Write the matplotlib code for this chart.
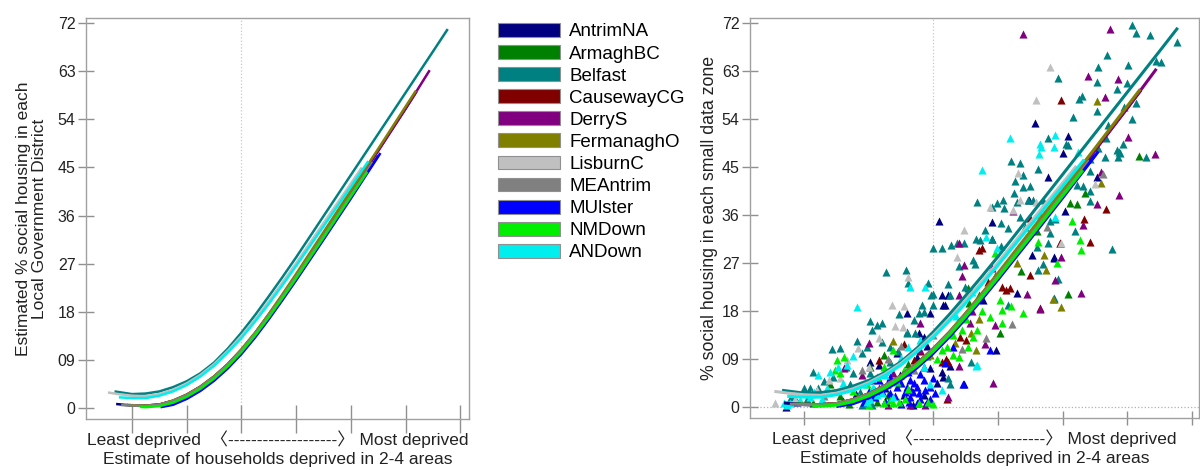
import numpy as np
import matplotlib
matplotlib.use('Agg')
import matplotlib.pyplot as plt
from matplotlib.patches import Patch

plt.rcParams['font.family'] = ['Liberation Sans', 'Noto Sans CJK SC']

# district names and colours
districts = ['AntrimNA', 'ArmaghBC', 'Belfast', 'CausewayCG', 'DerryS', 'FermanaghO',
             'LisburnC', 'MEAntrim', 'MUlster', 'NMDown', 'ANDown']
colours = ['#000080', '#008000', '#008080', '#800000', '#800080', '#808000',
           '#c0c0c0', '#808080', '#0000ff', '#00ee00', '#00eeee']

# fitted curves
AntrimNA_x = [-0.29, 0.0, 0.25, 0.5, 0.75, 1.0, 1.25, 1.5, 1.75, 2.0, 2.25, 2.5, 2.75, 3.0, 3.5, 4.0, 4.5]
AntrimNA_y = [0.75, 0.45, 0.35, 0.5, 1.1, 2.1, 3.5, 5.4, 7.7, 10.4, 13.5, 16.9, 20.5, 24.2, 31.8, 39.5, 47.2]
ArmaghBC_x = [-0.1, 0.0, 0.25, 0.5, 0.75, 1.0, 1.25, 1.5, 1.75, 2.0, 2.25, 2.5, 2.75, 3.0, 3.5, 4.0, 4.35]
ArmaghBC_y = [0.6, 0.5, 0.4, 0.6, 1.3, 2.4, 3.9, 5.8, 8.1, 10.8, 13.9, 17.3, 20.9, 24.6, 32.2, 39.9, 45.3]
Belfast_x = [-0.32, 0.0, 0.25, 0.5, 0.75, 1.0, 1.25, 1.5, 1.75, 2.0, 2.25, 2.5, 2.75, 3.0, 3.5, 4.0, 4.5, 5.0, 5.5, 5.77]
Belfast_y = [3.1, 2.6, 2.7, 3.1, 3.9, 5.0, 6.5, 8.5, 11.1, 14.1, 17.4, 20.9, 24.5, 28.2, 35.9, 43.6, 51.3, 59.0, 66.7, 70.9]
CausewayCG_x = [0.0, 0.25, 0.5, 0.75, 1.0, 1.25, 1.5, 1.75, 2.0, 2.25, 2.5, 2.75, 3.0, 3.5, 4.0, 4.5, 5.0, 5.2]
CausewayCG_y = [0.5, 0.45, 0.65, 1.35, 2.5, 4.0, 5.9, 8.2, 10.9, 14.0, 17.5, 21.1, 24.9, 32.6, 40.4, 48.2, 56.0, 59.2]
DerryS_x = [0.05, 0.25, 0.5, 0.75, 1.0, 1.25, 1.5, 1.75, 2.0, 2.25, 2.5, 2.75, 3.0, 3.5, 4.0, 4.5, 5.0, 5.44]
DerryS_y = [0.5, 0.45, 0.65, 1.35, 2.45, 3.95, 5.85, 8.15, 10.85, 14.0, 17.4, 21.0, 24.8, 32.5, 40.3, 48.1, 56.0, 63.2]
FermanaghO_x = [-0.05, 0.25, 0.5, 0.75, 1.0, 1.25, 1.5, 1.75, 2.0, 2.25, 2.5, 2.75, 3.0, 3.5, 4.0, 4.5, 5.0, 5.19]
FermanaghO_y = [0.55, 0.45, 0.65, 1.4, 2.5, 4.0, 5.9, 8.2, 11.0, 14.1, 17.6, 21.3, 25.1, 32.9, 40.7, 48.5, 56.4, 59.4]
LisburnC_x = [-0.44, -0.25, 0.0, 0.25, 0.5, 0.75, 1.0, 1.25, 1.5, 1.75, 2.0, 2.25, 2.5, 2.75, 3.0, 3.5, 4.0, 4.2]
LisburnC_y = [2.9, 2.6, 2.3, 2.2, 2.6, 3.4, 4.6, 6.2, 8.2, 10.7, 13.5, 16.6, 20.0, 23.5, 27.1, 34.6, 42.0, 45.0]
MEAntrim_x = [-0.2, 0.0, 0.25, 0.5, 0.75, 1.0, 1.25, 1.5, 1.75, 2.0, 2.25, 2.5, 2.75, 3.0, 3.5, 4.0, 4.4]
MEAntrim_y = [0.55, 0.45, 0.4, 0.6, 1.3, 2.4, 3.9, 5.8, 8.1, 10.8, 13.9, 17.3, 20.9, 24.6, 32.2, 39.9, 46.0]
MUlster_x = [0.52, 0.75, 1.0, 1.25, 1.5, 1.75, 2.0, 2.25, 2.5, 2.75, 3.0, 3.5, 4.0, 4.54]
MUlster_y = [0.15, 0.6, 1.7, 3.2, 5.1, 7.4, 10.1, 13.2, 16.6, 20.2, 23.9, 31.5, 39.2, 47.7]
NMDown_x = [0.15, 0.25, 0.5, 0.75, 1.0, 1.25, 1.5, 1.75, 2.0, 2.25, 2.5, 2.75, 3.0, 3.5, 4.0, 4.3]
NMDown_y = [0.2, 0.15, 0.35, 1.0, 2.1, 3.6, 5.5, 7.8, 10.5, 13.6, 17.0, 20.6, 24.3, 31.9, 39.6, 44.2]
ANDown_x = [-0.24, 0.0, 0.25, 0.5, 0.75, 1.0, 1.25, 1.5, 1.75, 2.0, 2.25, 2.5, 2.75, 3.0, 3.5, 4.0, 4.32]
ANDown_y = [2.0, 1.85, 1.85, 2.3, 3.1, 4.3, 5.9, 7.9, 10.4, 13.1, 16.2, 19.5, 23.0, 26.6, 34.0, 41.4, 46.2]

curves_x = [AntrimNA_x, ArmaghBC_x, Belfast_x, CausewayCG_x, DerryS_x, FermanaghO_x,
            LisburnC_x, MEAntrim_x, MUlster_x, NMDown_x, ANDown_x]
curves_y = [AntrimNA_y, ArmaghBC_y, Belfast_y, CausewayCG_y, DerryS_y, FermanaghO_y,
            LisburnC_y, MEAntrim_y, MUlster_y, NMDown_y, ANDown_y]

# small data zones (x, y) per district
AntrimNA_pts = [(3.57, 53.2), (4.09, 50.8), (4.0, 47.7), (3.78, 43.2), (4.54, 43.2), (4.04, 36.8),
                (3.87, 27.9), (3.3, 21.3), (2.18, 19.1), (2.77, 20.1), (2.97, 10.7), (2.25, 7.7),
                (2.13, 6.6), (2.15, 5.7), (2.47, 4.4), (2.09, 34.9), (2.9, 34.75), (2.9, 31.6),
                (2.14, 21.0), (2.23, 21.0), (3.48, 38.8), (3.52, 28.5), (3.86, 28.2), (1.02, 8.5),
                (1.15, 7.9), (1.59, 17.7), (1.95, 17.6), (1.77, 13.9), (1.85, 13.2), (-0.11, 1.0),
                (-0.28, 0.06), (1.43, 10.1), (1.74, 9.4), (1.54, 2.25), (1.85, 2.25), (1.69, 0.4),
                (1.95, 7.25), (2.15, 19.1), (1.25, 3.5), (1.48, 6.0), (1.35, 4.8), (1.05, 5.0),
                (0.8, 2.5), (2.05, 4.5), (1.9, 11.5), (0.6, 1.2)]
ArmaghBC_pts = [(5.19, 47.1), (4.34, 40.1), (4.11, 38.2), (4.22, 38.1), (4.09, 21.2), (3.03, 13.8),
                (1.12, 1.0), (0.94, 0.7), (1.02, 7.6), (1.23, 9.75), (0.71, 3.8), (0.14, 0.7),
                (0.4, 4.4), (2.55, 19.5), (3.35, 25.5), (1.6, 8.0), (1.9, 9.5), (0.55, 2.0),
                (2.54, 22.4), (3.6, 33.0), (1.3, 2.2), (0.7, 0.6), (1.5, 9.0), (2.7, 21.0),
                (2.95, 24.5)]
Belfast_pts = [(5.08, 71.6), (5.14, 70.2), (5.35, 69.75), (5.77, 68.5), (4.69, 66.1), (5.02, 64.1),
               (5.45, 64.9), (5.52, 64.75), (3.93, 61.8), (4.55, 63.8), (4.53, 60.9), (5.0, 60.8),
               (4.85, 59.6), (4.26, 57.7), (4.3, 58.3), (5.13, 57.1), (4.16, 54.3), (4.53, 55.5),
               (5.07, 54.1), (3.78, 50.4), (4.06, 49.4), (4.09, 49.1), (3.34, 45.7), (4.93, 49.4),
               (4.67, 50.4), (4.7, 52.9), (4.85, 48.2), (4.89, 47.6), (5.29, 46.8), (4.66, 46.9),
               (4.42, 46.6), (4.55, 48.5), (4.86, 46.9), (4.87, 47.9), (4.42, 44.3), (4.22, 41.6),
               (4.31, 41.4), (4.42, 40.6), (4.43, 38.7), (3.88, 35.2), (3.8, 34.9), (4.76, 29.6),
               (3.93, 24.1), (3.86, 20.4), (3.26, 42.3), (3.39, 43.5), (3.39, 41.3), (3.55, 38.8),
               (3.47, 38.8), (2.98, 38.2), (3.08, 38.8), (2.9, 37.6), (2.67, 38.5), (3.1, 37.25),
               (3.7, 38.8), (3.34, 35.7), (3.42, 33.8), (2.8, 33.2), (2.66, 31.6), (2.72, 31.3),
               (2.0, 29.75), (2.13, 29.75), (2.28, 30.4), (2.36, 30.7), (2.47, 30.7), (2.62, 27.6),
               (2.64, 26.9), (3.8, 32.6), (3.96, 30.7), (3.78, 30.7), (3.7, 26.9), (3.62, 25.7),
               (3.6, 30.1), (3.86, 20.2), (2.25, 21.0), (3.16, 19.1), (2.59, 8.5), (2.23, 5.4),
               (2.25, 4.4), (1.27, 25.4), (1.58, 25.7), (1.61, 23.2), (1.91, 23.2), (2.22, 23.1),
               (1.99, 21.2), (2.49, 22.6), (1.82, 19.1), (1.97, 21.0), (1.99, 19.1), (1.77, 17.6),
               (1.46, 17.4), (1.02, 16.2), (1.12, 15.4), (1.2, 15.7), (1.05, 14.4), (1.59, 14.1),
               (1.72, 13.8), (0.43, 10.8), (0.56, 11.0), (0.81, 12.3), (0.97, 11.3), (0.14, 6.6),
               (-0.01, 3.5), (0.09, 3.5), (0.22, 3.5), (0.89, 0.4), (1.05, 0.4), (0.76, 6.3),
               (0.89, 10.1), (1.33, 11.3), (1.02, 6.3), (0.71, 4.4), (0.45, 5.7), (0.87, 2.9),
               (1.33, 8.5), (1.59, 13.8), (1.85, 17.9), (2.9, 31.5), (3.15, 33.5), (3.3, 38.5),
               (3.5, 41.5), (3.62, 44.6), (3.2, 46.2), (4.95, 56.2), (4.2, 33.0), (3.05, 30.2),
               (0.3, 4.8), (0.65, 7.5), (1.2, 12.2), (0.05, 1.6), (-0.2, 1.8), (1.45, 10.5),
               (1.7, 16.3), (2.4, 26.5), (3.05, 34.5), (3.25, 40.2)]
CausewayCG_pts = [(3.97, 57.6), (3.5, 35.4), (2.75, 29.75), (3.96, 30.7), (3.5, 24.75), (3.65, 18.5),
                  (4.68, 37.1), (4.33, 35.2), (4.42, 31.0), (3.13, 21.9), (3.06, 22.6), (3.18, 22.4),
                  (2.41, 13.2), (2.13, 8.5), (2.2, 9.1), (2.71, 29.4), (2.23, 8.5), (2.21, 1.6),
                  (1.15, 8.8), (1.54, 11.9), (1.8, 10.5), (1.7, 8.8), (2.5, 12.5), (2.85, 23.5)]
DerryS_pts = [(3.38, 69.9), (4.73, 70.9), (4.39, 62.1), (4.86, 61.6), (4.66, 58.2), (5.02, 50.7),
              (5.43, 47.4), (4.6, 44.1), (4.87, 39.75), (4.54, 38.1), (4.32, 34.1), (3.97, 28.1),
              (3.89, 23.8), (4.28, 21.3), (3.45, 21.2), (3.65, 18.3), (2.57, 15.7), (2.95, 15.4),
              (2.8, 11.8), (2.4, 7.7), (2.92, 4.6), (2.22, 1.9), (3.23, 36.8), (2.4, 30.7),
              (2.47, 26.6), (2.39, 21.0), (2.45, 24.6), (0.61, 7.4), (1.01, 12.1), (1.79, 15.8),
              (1.38, 6.3), (1.79, 10.7), (1.87, 0.4), (1.64, 0.4), (1.3, 0.4), (1.15, 3.6),
              (0.9, 6.0), (2.6, 18.0), (2.9, 26.0)]
FermanaghO_pts = [(4.53, 57.4), (3.72, 28.5), (3.75, 25.7), (3.98, 18.7), (2.59, 13.8), (2.33, 12.1),
                  (2.66, 10.7), (1.38, 12.4), (4.6, 42.0), (3.85, 20.3), (1.25, 6.8), (1.95, 9.8),
                  (2.7, 16.5), (3.3, 27.0)]
LisburnC_pts = [(3.8, 63.7), (3.59, 57.6), (3.31, 43.8), (3.34, 38.8), (2.88, 37.6), (3.59, 38.5),
                (2.47, 33.2), (2.36, 28.2), (4.5, 41.9), (3.97, 30.8), (-0.45, 0.7), (0.38, 5.1),
                (0.66, 8.8), (0.84, 11.0), (1.36, 19.1), (1.55, 18.9), (1.41, 15.2), (1.53, 15.1),
                (1.61, 24.3), (0.2, 3.2), (0.99, 1.9), (3.24, 36.9), (-0.15, 1.5), (0.55, 5.5),
                (0.1, 2.5), (1.15, 13.0), (1.0, 7.5)]
MEAntrim_pts = [(4.63, 43.7), (3.76, 33.7), (2.81, 12.9), (3.21, 15.6), (2.44, 10.8), (1.3, 9.0),
                (1.7, 7.0), (1.2, 4.0), (3.65, 36.0), (0.3, 2.0), (1.5, 11.5), (0.9, 7.0), (2.0, 13.5)]
MUlster_pts = [(1.59, 3.8), (1.66, 3.2), (1.69, 2.9), (1.74, 3.8), (1.77, 2.6), (1.64, 1.9),
               (1.79, 1.6), (1.87, 3.2), (1.95, 3.8), (2.03, 2.6), (1.33, 2.6), (1.43, 3.8),
               (1.56, 2.9), (1.33, 1.6), (1.64, 5.1), (1.85, 5.1), (1.28, 4.4), (1.1, 1.9),
               (0.92, 1.0), (1.74, 0.7), (1.85, 7.6), (2.18, 8.2), (2.31, 11.3), (2.88, 10.7),
               (2.46, 4.4), (1.33, 5.7), (1.5, 4.5), (1.2, 3.0), (1.9, 1.0), (1.6, 6.5), (1.0, 3.0),
               (1.15, 5.0), (1.4, 2.0), (1.7, 4.6), (1.5, 0.6), (1.95, 1.5), (1.05, 2.2),
               (1.25, 1.2), (2.0, 5.5), (1.8, 6.2), (1.62, 0.9)]
NMDown_pts = [(1.33, 1.3), (1.46, 1.0), (1.56, 1.6), (1.23, 0.7), (1.38, 0.7), (1.77, 0.7),
              (1.92, 1.0), (0.51, 8.8), (0.61, 9.4), (1.12, 5.7), (1.43, 4.75), (0.97, 4.4),
              (1.23, 7.6), (1.54, 6.9), (2.05, 9.1), (2.21, 11.3), (2.54, 11.3), (2.62, 13.2),
              (2.67, 14.4), (3.03, 20.1), (3.06, 18.2), (4.27, 31.3), (4.29, 29.4), (4.14, 34.9),
              (3.91, 27.1), (3.38, 17.6), (2.88, 16.9), (3.06, 15.7), (2.13, 10.7), (2.31, 9.75),
              (2.39, 9.4), (0.48, 6.9), (0.56, 6.3), (1.38, 10.7), (2.95, 28.8), (3.62, 31.0),
              (0.75, 3.0), (1.0, 0.4), (1.6, 3.3), (2.0, 0.5), (1.1, 3.2), (0.85, 1.8),
              (2.45, 14.5), (2.75, 18.0), (2.5, 16.5), (2.3, 13.5), (3.2, 19.0)]
ANDown_pts = [(3.18, 50.4), (3.65, 49.4), (3.67, 48.8), (3.88, 51.1), (3.86, 48.7), (3.64, 47.4),
              (2.76, 44.4), (3.88, 35.7), (1.63, 22.6), (1.87, 22.6), (2.66, 7.7), (0.82, 18.7),
              (0.22, 6.0), (-0.32, 0.7), (-0.27, 0.4), (0.4, 6.6), (0.53, 7.6), (0.66, 7.9),
              (0.92, 4.4), (1.07, 3.8), (-0.22, 0.7), (-0.06, 1.3), (0.09, 1.9), (0.27, 1.6),
              (1.61, 11.3), (1.85, 7.6), (1.95, 4.4), (2.67, 7.9), (2.13, 3.2), (1.02, 1.6),
              (1.12, 2.25), (1.2, 2.6), (1.38, 1.9), (0.97, 1.0), (2.82, 31.9), (2.98, 29.75),
              (4.24, 47.8), (0.35, 3.5), (0.6, 4.5), (0.15, 2.8), (1.25, 6.0), (0.75, 9.5),
              (1.5, 9.2), (1.8, 12.5), (2.35, 17.0), (2.6, 21.5)]

points = [AntrimNA_pts, ArmaghBC_pts, Belfast_pts, CausewayCG_pts, DerryS_pts, FermanaghO_pts,
          LisburnC_pts, MEAntrim_pts, MUlster_pts, NMDown_pts, ANDown_pts]

y_ticks = [0, 9, 18, 27, 36, 45, 54, 63, 72]
y_tick_labels = ['0', '09', '18', '27', '36', '45', '54', '63', '72']
x_ticks = [0, 1, 2, 3, 4, 5, 6]

fig = plt.figure(figsize=(12, 4.7), dpi=100)
ax1 = fig.add_axes([0.0717, 0.1085, 0.3192, 0.853])
ax2 = fig.add_axes([0.625, 0.1106, 0.374, 0.851])

spine_col = '#a0a0a0'


def style_axis(ax, xmax, dashes):
    ax.set_ylim(-2.06, 72.95)
    ax.set_xlim(-0.84, xmax)
    ax.set_yticks(y_ticks)
    ax.set_yticklabels(y_tick_labels)
    ax.set_xticks(x_ticks)
    ax.set_xticklabels([])
    for s in ax.spines.values():
        s.set_color(spine_col)
        s.set_linewidth(1.0)
    ax.tick_params(axis='y', direction='inout', length=11, width=1, color='#909090',
                   labelsize=11.5, pad=2, labelcolor='#222222')
    ax.tick_params(axis='x', direction='inout', length=20, width=1, color='#909090')
    ax.axvline(2, color='#c8c8c8', lw=0.9, ls=':', zorder=0)
    ax.set_xlabel('Least deprived  \u3008' + '-' * dashes + '\u3009 Most deprived\n'
                  'Estimate of households deprived in 2-4 areas',
                  fontsize=12.5, color='#222222', linespacing=1.4)
    ax.xaxis.set_label_coords(0.5, -0.027)


style_axis(ax1, 6.16, 19)
style_axis(ax2, 6.11, 23)
ax2.axhline(0, color='#b0b0b0', lw=0.9, ls=':', zorder=0)
ax2.tick_params(axis='x', length=10)

ax1.set_ylabel('Estimated % social housing in each\nLocal Government District',
               fontsize=12.5, color='#222222', labelpad=8, linespacing=1.05)
ax2.set_ylabel('% social housing in each small data zone', fontsize=12.8, color='#222222',
               labelpad=3)

# left: curves only
for cx, cy, col in zip(curves_x, curves_y, colours):
    ax1.plot(cx, cy, color=col, lw=1.8, solid_capstyle='butt')

# right: data zones and curves
for pts, col in zip(points, colours):
    px = [p[0] for p in pts]
    py = [p[1] for p in pts]
    ax2.scatter(px, py, marker='^', s=34, color=col, linewidths=0, zorder=2)
for cx, cy, col in zip(curves_x, curves_y, colours):
    ax2.plot(cx, cy, color=col, lw=2.2, zorder=3)

handles = [Patch(facecolor=c, edgecolor='#909090', linewidth=0.8) for c in colours]
fig.legend(handles, districts, loc='upper left', bbox_to_anchor=(0.415, 0.951),
           frameon=False, fontsize=13.5, handlelength=3.3, handleheight=0.75,
           handletextpad=0.5, labelspacing=0.25, borderaxespad=0, borderpad=0)

fig.savefig('out.png', dpi=100)
